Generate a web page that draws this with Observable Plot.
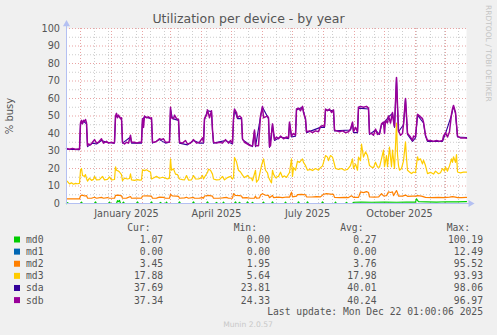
<!DOCTYPE html>
<html><head><meta charset="utf-8">
<script src="https://cdn.jsdelivr.net/npm/d3@7"></script>
<script src="https://cdn.jsdelivr.net/npm/@observablehq/plot@0.6"></script>
<style>
html,body{margin:0;padding:0;background:#f0f0f0;}
#wrap{position:relative;width:497px;height:335px;background:#f0f0f0;overflow:hidden;}
#chart{position:absolute;left:0;top:0;}
#overlay{position:absolute;left:0;top:0;pointer-events:none;}
</style></head><body><div id="wrap"><div id="chart"></div><svg id="overlay" width="497" height="335"></svg></div>
<script>
// ---- data (day offset from start date, value in % busy) ----
const startDate = "2024-11-17";
const endDate = "2025-12-22";

const md0 = [[0,0],[1,0.5],[2,0],[14,0],[15,0.8],[16,0],[28,0],[29,0.9],[30,0],[42,0],[43,0.8],[44,0],[50,0],[51,1.6],[52,1.1],[53,1.8],[54,0],[56,0],[57,0.8],[58,0],[70,0],[71,0.9],[72,0],[84,0],[85,0.9],[86,0],[93,0],[94,0.6],[95,0],[99,0],[100,0.8],[101,0],[112,0],[113,0.9],[114,0],[126,0],[127,0.9],[128,0],[140,0],[141,0.9],[142,0],[149,0],[150,0.6],[151,0],[156,0],[157,0.8],[158,0],[168,0],[169,0.9],[170,0],[172,0],[173,0.7],[174,0],[180,0],[181,0.9],[182,0],[185,0],[186,0.7],[187,0],[196,0],[197,0.8],[198,0],[205,0],[206,0.9],[207,0],[218,0],[219,0.8],[220,0],[231,0],[232,0.9],[233,0],[240,0],[241,0.9],[242,0],[255,0],[256,0.9],[257,0],[268,0],[269,0.8],[270,0],[279,0],[280,0.7],[281,0],[286,0],[287,0.7],[295,0.8],[305,0.7],[318,0.8],[330,0.7],[340,0.8],[349,0.8],[350,2.7],[352,1.0],[360,0.9],[370,0.8],[380,1.0],[390,0.9],[400,1.07]];

const md1 = [[0,0],[400,0]];

const md2 = [[0,2.6],[13,2.6],[14,4.4],[16,4.8],[18,4.3],[20,4.5],[21,3.1],[25,3.0],[28,3.6],[30,3.0],[35,3.5],[37,3.0],[41,3.4],[43,3.0],[48,3.0],[49,4.6],[52,4.8],[55,4.4],[56,3.0],[60,3.1],[64,4.0],[65,3.0],[70,3.1],[75,3.0],[76,4.3],[80,4.4],[85,4.2],[86,3.0],[90,3.1],[93,3.6],[97,3.5],[99,3.0],[103,3.0],[104,5.2],[106,4.3],[110,4.2],[112,4.1],[113,3.0],[118,3.2],[120,3.6],[122,3.0],[127,3.5],[128,3.0],[133,3.1],[136,3.4],[137,3.0],[138,4.3],[142,4.6],[146,4.2],[147,3.0],[152,3.0],[156,3.2],[160,3.5],[162,3.0],[166,3.1],[167,5.6],[169,4.6],[173,4.5],[175,4.3],[176,3.2],[180,3.4],[184,3.0],[188,3.1],[189,4.2],[190,3.0],[193,3.2],[194,4.8],[196,5.6],[199,4.7],[202,4.6],[203,3.3],[206,4.6],[207,3.4],[212,3.6],[216,3.4],[220,3.7],[223,3.6],[225,6.5],[226,3.8],[230,4.2],[231,5.1],[235,5.2],[239,5.0],[240,3.8],[245,3.7],[250,3.9],[254,3.8],[257,5.3],[260,5.6],[264,5.4],[267,5.2],[268,3.5],[273,3.4],[278,3.5],[282,3.4],[285,4.4],[287,3.5],[292,3.5],[294,6.6],[297,6.2],[300,6.8],[302,6.3],[303,3.7],[308,3.6],[312,3.7],[315,5.7],[317,4.3],[320,4.5],[322,6.7],[324,6.3],[326,6.6],[327,4.5],[330,7.4],[331,6.0],[332,4.2],[336,4.2],[339,4.8],[341,4.1],[346,4.2],[349,4.2],[351,4.5],[355,4.2],[359,3.5],[365,3.4],[372,3.5],[378,3.4],[383,3.6],[386,3.9],[389,3.6],[391,3.4],[395,3.4],[400,3.45]];

const md3 = [[0,13],[1,12.5],[3,11.2],[5,11.8],[7,11],[9,11.5],[11,11.3],[13,11.5],[14,19],[15,20],[16,16],[18,15.5],[19,16.5],[20,14.3],[21,12.8],[23,14.5],[25,13.2],[27,13.8],[28,15.5],[30,13.5],[33,13.6],[36,15.5],[38,13.5],[41,13.8],[43,15.2],[45,13.5],[48,13.7],[49,21],[50,19],[52,18.5],[53,18],[55,16.5],[56,13],[58,14.5],[61,14],[63,14.3],[64,17],[65,13.5],[68,13.2],[71,13.6],[73,13.4],[75,13.5],[76,19.2],[78,18.8],[80,19.3],[82,18.5],[84,18],[85,14],[87,14.6],[90,15.5],[93,14.4],[96,15],[99,14.5],[101,14],[103,14.5],[104,25.5],[105,19],[107,19.8],[109,16.8],[111,16.5],[113,14],[116,13.6],[118,13.5],[120,16],[122,13.4],[125,13.5],[127,16],[129,14],[132,14],[134,14.5],[136,16],[137,14],[139,16],[141,17.7],[142,19.6],[144,19],[146,16.8],[147,14],[150,13.5],[153,13.6],[156,15.5],[158,13.5],[161,14.8],[164,15.5],[166,14],[167,15],[168,26.3],[170,23.8],[172,19],[174,18],[176,16.2],[178,14.8],[181,16],[183,14.6],[185,14.5],[186,13],[189,19],[190,12.2],[192,13.6],[195,21.7],[197,25.5],[199,19],[201,17.5],[202,15],[204,12.8],[205,11.8],[206,19],[207,16.8],[209,14.7],[212,15.5],[214,17.9],[216,15],[218,15.8],[220,14.9],[223,17.7],[225,25.5],[226,15.5],[227,20.5],[229,19],[231,24.2],[233,23.5],[234,24.2],[236,25.5],[237,23.5],[239,21.7],[241,19],[244,19.5],[246,18.8],[249,20],[252,19],[254,20.5],[256,21.5],[259,27.4],[261,26.5],[262,24.5],[264,27.4],[266,26.5],[267,24.5],[269,20],[272,19.5],[275,20],[278,19],[281,19.5],[284,21.7],[286,25.5],[287,20],[289,22.6],[291,19],[292,26.5],[294,24.5],[295,34],[297,26.5],[299,29.5],[301,27.4],[303,21.7],[305,20.8],[307,20.5],[309,23.6],[311,20.8],[313,20.8],[315,25.5],[317,30.5],[318,21],[320,27.4],[321,21],[323,32.2],[325,21],[326,30.5],[328,20],[330,46],[331,28],[332,21.7],[333,19],[335,20],[337,24.4],[339,35.2],[340,26],[341,19],[343,18],[345,17.1],[347,18],[349,17.6],[351,26.7],[352,24.8],[354,25.5],[356,22.6],[357,24.8],[359,21.7],[361,17.1],[364,17.8],[367,16.8],[369,18.5],[372,17],[374,17.6],[376,20],[378,18.5],[379,20.9],[381,18.5],[383,21.5],[385,25.5],[386,23.5],[387,26.7],[389,23.5],[390,28],[391,18],[394,17.5],[397,17.9],[400,17.88]];

const sda = [[0,31],[13,30.8],[14,45.5],[17,47],[20,45.5],[21,32.5],[26,34.5],[30,34],[35,36],[40,35],[48,34.5],[49,49.5],[52,50],[55,48],[56,34.5],[64,38],[65,34.5],[75,34.5],[76,48],[78,49.5],[85,48.5],[86,34.5],[93,36.5],[99,34.5],[103,35],[104,54],[106,48.5],[112,47.5],[113,34.5],[121,33.5],[127,36],[133,34.5],[137,34.5],[138,48],[141,53],[145,52.5],[146,41.5],[147,34.5],[159,36],[166,34],[167,48],[168,53.5],[171,48.5],[175,48.5],[176,36.5],[186,32.5],[188,41.5],[189,32.5],[194,49.5],[196,55],[202,48.5],[203,32],[206,45],[208,36],[214,38],[222,37],[223,46],[225,38],[229,38.5],[230,53.5],[236,55],[239,48],[240,40.5],[254,43.5],[258,43.5],[259,53.5],[267,53],[268,41.5],[284,42],[286,46],[287,40.5],[291,40.5],[292,54.5],[302,54],[303,39.5],[309,42],[313,39.5],[315,45],[319,47],[322,49.5],[326,51.5],[328,43.5],[330,71.5],[331,55.5],[332,41],[337,45],[339,59.5],[341,39.5],[346,35.5],[349,37.5],[351,50.5],[357,46],[359,38.5],[361,35.5],[376,35.5],[379,40],[385,50.5],[387,55.5],[389,51.5],[391,38],[400,37.7]];

const sdb = [[0,31.5],[3,31],[6,31.5],[9,31],[12,31.2],[13,31],[14,46],[15,47.5],[16,45.5],[17,47.5],[18,47],[19,48],[20,46],[21,33],[22,34],[24,33.5],[26,35],[28,36.5],[30,34.5],[32,35],[35,37],[37,34.5],[40,35.5],[42,34.5],[45,35],[47,34.5],[48,35],[49,50],[50,51.5],[51,49],[52,50.5],[54,48.5],[55,49],[56,35],[58,34],[60,35],[62,34.5],[64,39],[65,35],[68,35],[70,34.5],[73,35],[75,35],[76,48.5],[77,43.5],[78,50],[80,49],[82,49.5],[84,48.5],[85,49],[86,35],[88,35],[90,35.5],[93,37],[95,36.5],[97,37],[99,35],[102,35],[103,35.5],[104,55],[105,49],[107,48.5],[108,50.5],[110,48.5],[112,48],[113,35],[116,34.5],[119,36],[121,34],[124,34.5],[127,36.5],[130,34.5],[133,35],[136,37.5],[137,35],[138,48.5],[140,50.5],[141,53.5],[143,49],[145,53],[146,42],[147,35],[150,34.5],[153,35],[156,34.5],[159,36.5],[162,34.5],[164,36],[166,34.5],[167,48.5],[168,54],[170,52],[171,49],[173,50],[175,49],[176,37],[178,35],[181,34],[184,33],[186,33],[188,42],[189,33],[192,33],[194,50],[196,55.5],[197,49],[199,49.5],[201,50],[202,49],[203,32.5],[204,33],[206,45.5],[208,36.5],[210,38],[212,37],[214,38.5],[217,37],[220,38],[222,37.5],[223,46.5],[225,38.5],[227,40],[229,39],[230,54],[232,54.5],[234,53],[236,55.5],[237,52],[239,48.5],[240,41],[243,41.5],[246,40.5],[249,41.5],[252,41],[254,44],[256,44.5],[258,44],[259,54],[261,53],[263,54],[265,52],[267,53.5],[268,42],[270,41.5],[273,41],[276,41.5],[279,40.5],[282,41],[284,42.5],[286,46.5],[287,41],[289,43.5],[291,41],[292,55],[294,55.5],[297,55],[300,55.5],[302,54.5],[303,40],[305,40],[307,39],[309,42.5],[311,39.5],[313,40],[315,45.5],[317,46.5],[318,40],[319,47.5],[321,46],[322,50],[324,46],[326,52],[327,47],[328,44],[330,72],[331,56],[332,41.5],[334,39],[336,40],[337,45.5],[339,60],[340,50],[341,40],[344,38],[346,36],[347,38.5],[349,38],[351,51],[352,50.5],[354,49.5],[356,48.5],[357,46.5],[359,39],[361,36],[364,36],[367,35.5],[370,36],[373,35.5],[376,36],[377,38.5],[379,40.5],[381,38],[383,41],[385,51],[386,54],[387,56],[389,52],[391,38.5],[394,37.5],[397,37.5],[400,37.3]];

// legend
const seriesNames  = ["md0","md1","md2","md3","sda","sdb"];
const seriesColors = ["#00cc00","#0066b3","#ff8000","#ffcc00","#330099","#990099"];
const curVals = [1.07, 0.00, 3.45, 17.88, 37.69, 37.34];
const minVals = [0.00, 0.00, 1.95, 5.64, 23.81, 24.33];
const avgVals = [0.27, 0.00, 3.76, 17.98, 40.01, 40.24];
const maxVals = [100.19, 12.49, 95.52, 93.93, 98.06, 96.97];
const yTicks = [0,10,20,30,40,50,60,70,80,90,100];
const yMinorTicks = [5,15,25,35,45,55,65,75,85,95];
const titleText = "Utilization per device - by year";
const yLabel = "% busy";
const lastUpdate = "Last update: Mon Dec 22 01:00:06 2025";
const credit = "Munin 2.0.57";
const sideText = "RRDTOOL / TOBI OETIKER";

// ---- build ----
const parse = d3.timeParse("%Y-%m-%d");
const start = parse(startDate), end = parse(endDate);
const rows = (arr) => arr.map(([d, v]) => ({date: d3.timeDay.offset(start, d), value: v}));
const seriesData = [md0, md1, md2, md3, sda, sdb].map(rows);
const lineWidths = [1.2, 1.2, 1.2, 1.2, 1.1, 1.5];

const monthStarts = d3.timeMonth.range(d3.timeMonth.ceil(start), end);
const biweekly = d3.timeWeek.range(start, end, 2);
const quarterStarts = d3.timeMonth.every(3).range(d3.timeMonth.ceil(start), end);
const fmt = d3.timeFormat("%B %Y");

const axisColor = "#b4c0f2";
const majorColor = "#e9a3a3";
const minorColor = "#cdcdcd";
const dash = "1,2";

const chart = Plot.plot({
  width: 497, height: 220,
  marginLeft: 66, marginRight: 31, marginTop: 28, marginBottom: 17,
  style: {background: "transparent", color: "#555", fontFamily: "DejaVu Sans", fontSize: "9.7px", overflow: "visible"},
  x: {type: "time", domain: [start, end], axis: null},
  y: {domain: [0, 100], axis: null},
  marks: [
    Plot.frame({fill: "white", stroke: null}),
    Plot.ruleY(yMinorTicks, {stroke: minorColor, strokeDasharray: dash}),
    Plot.ruleX(biweekly, {stroke: minorColor, strokeDasharray: dash}),
    Plot.ruleY(yTicks, {stroke: majorColor, strokeDasharray: dash}),
    Plot.ruleX(monthStarts, {stroke: majorColor, strokeDasharray: dash}),
    ...seriesData.map((data, i) => Plot.line(data, {x: "date", y: "value", stroke: seriesColors[i], strokeWidth: lineWidths[i]})),
    Plot.ruleX([start], {y1: 0, y2: 102, stroke: axisColor}),
    Plot.dot([start], {x: d => d, y: () => 102.5, symbol: "triangle", r: 2.6, fill: axisColor, stroke: null}),
    Plot.ruleY([0], {x1: start, x2: d3.timeDay.offset(end, 4), stroke: axisColor}),
    Plot.dot([d3.timeDay.offset(end, 4)], {x: d => d, y: () => 0, symbol: "triangle", rotate: 90, r: 2.6, fill: axisColor, stroke: null}),
    Plot.axisY(yTicks, {tickSize: 0, tickPadding: 6.5, label: null, fontSize: 9.7, fill: "#555"}),
    Plot.text(quarterStarts, {x: d => d3.timeDay.offset(d, 15), y: () => 0, dy: 10, text: d => fmt(d), fontSize: 9.7, fill: "#555"})
  ]
});
document.getElementById("chart").appendChild(chart);

// ---- overlay texts & legend ----
const ov = d3.select("#overlay");
ov.append("text").attr("x", 248.5).attr("y", 23.2).attr("text-anchor", "middle")
  .attr("font-family", "DejaVu Sans").attr("font-size", 12.5).attr("fill", "#555").text(titleText);
ov.append("text").attr("transform", "translate(13.3,116) rotate(-90)").attr("text-anchor", "middle")
  .attr("font-family", "DejaVu Sans").attr("font-size", 10).attr("fill", "#555").text(yLabel);
ov.append("text").attr("transform", "translate(485.5,5) rotate(90)").attr("text-anchor", "start")
  .attr("font-family", "DejaVu Sans").attr("font-size", 7.5).attr("fill", "#c4c4c4").text(sideText);

const mono = (sel) => sel.attr("font-family", "DejaVu Sans Mono").attr("font-size", 9.7).attr("fill", "#555");
const headers = ["Cur:", "Min:", "Avg:", "Max:"];
const headerX = [150.5, 257, 363.5, 470];
const colX = [163.2, 270, 376.5, 483];
headers.forEach((h, i) => mono(ov.append("text")).attr("x", headerX[i]).attr("y", 230.8).attr("text-anchor", "end").text(h));
const cols = [curVals, minVals, avgVals, maxVals];
seriesNames.forEach((name, r) => {
  const base = 242.9 + r * 12.12;
  ov.append("rect").attr("x", 14).attr("y", base - 6.4).attr("width", 6).attr("height", 6).attr("fill", seriesColors[r]);
  mono(ov.append("text")).attr("x", 26).attr("y", base).text(name);
  cols.forEach((c, j) => mono(ov.append("text")).attr("x", colX[j]).attr("y", base).attr("text-anchor", "end").text(c[r].toFixed(2)));
});
mono(ov.append("text")).attr("x", 483).attr("y", 314.8).attr("text-anchor", "end").text(lastUpdate);
ov.append("text").attr("x", 248).attr("y", 327).attr("text-anchor", "middle")
  .attr("font-family", "DejaVu Sans").attr("font-size", 7.6).attr("fill", "#c8c8c8").text(credit);
</script></body></html>
